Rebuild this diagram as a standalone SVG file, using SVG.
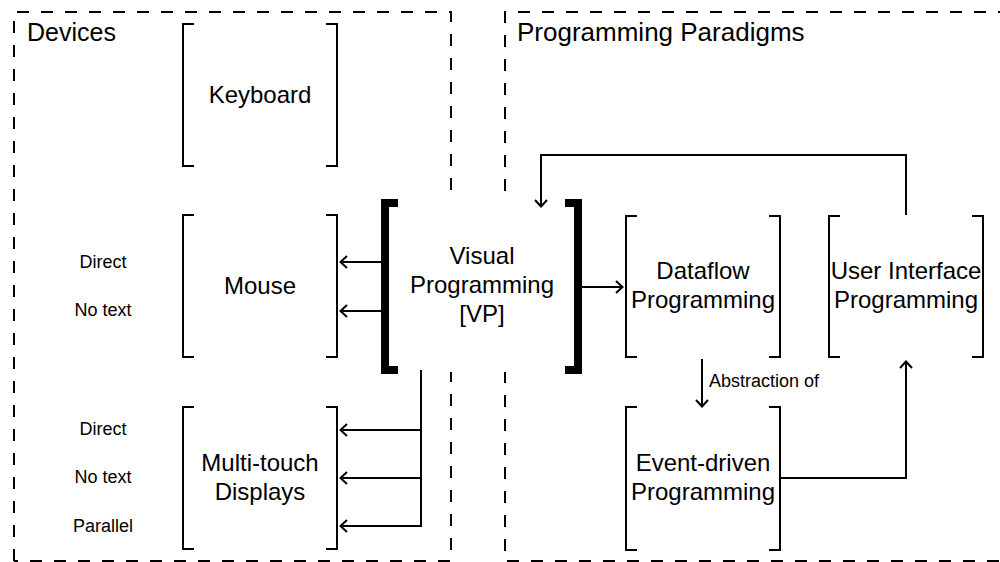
<svg xmlns="http://www.w3.org/2000/svg" width="1000" height="562" viewBox="0 0 1000 562">
<defs>
<style>
.cont{fill:none;stroke:#000;stroke-width:2;stroke-dasharray:12 12}
.br{fill:none;stroke:#000;stroke-width:2}
.bb{fill:none;stroke:#000;stroke-width:8}
.cn{fill:none;stroke:#000;stroke-width:2}
text{font-family:"Liberation Sans",Arial,sans-serif;fill:#000}
.m{font-size:24px;text-anchor:middle}
.s{font-size:18px;text-anchor:middle}
.t{font-size:25px}
</style>
<marker id="ah" markerUnits="userSpaceOnUse" markerWidth="14" markerHeight="16" refX="8" refY="7" orient="auto">
<path d="M1,1 L7.5,7 L1,13" fill="none" stroke="#000" stroke-width="2"/>
</marker>
</defs>
<rect width="1000" height="562" fill="#fff"/>
<g id="devices">
<path class="cont" d="M14,561 V12 H451 V561 H14"/>
<text class="t" x="27" y="41">Devices</text>
</g>
<g id="paradigms">
<path class="cont" d="M1010,12 H505 V561 H1010"/>
<text class="t" x="517" y="41" style="font-size:26px">Programming Paradigms</text>
</g>
<g id="keyboard">
<path class="br" d="M194,24 H183 V166 H194 M326,24 H337 V166 H326"/>
<text class="m" x="260" y="103">Keyboard</text>
</g>
<g id="mouse">
<path class="br" d="M194,215 H183 V357 H194 M326,215 H337 V357 H326"/>
<text class="m" x="260" y="294">Mouse</text>
<text class="s" x="103" y="268">Direct</text>
<text class="s" x="103" y="316">No text</text>
</g>
<g id="multitouch">
<path class="br" d="M194,407 H183 V549 H194 M326,407 H337 V549 H326"/>
<text class="m" x="260" y="471">Multi-touch</text>
<text class="m" x="260" y="500">Displays</text>
<text class="s" x="103" y="435">Direct</text>
<text class="s" x="103" y="483">No text</text>
<text class="s" x="103" y="532">Parallel</text>
</g>
<g id="vp">
<rect x="381" y="199" width="201" height="173" fill="#fff"/>
<path class="bb" d="M398,203 H385 V370 H398 M565,203 H578 V370 H565"/>
<text class="m" x="482" y="264">Visual</text>
<text class="m" x="482" y="293">Programming</text>
<text class="m" x="482" y="322">[VP]</text>
</g>
<g id="dataflow">
<path class="br" d="M637,216 H626 V357 H637 M769,216 H780 V357 H769"/>
<text class="m" x="703" y="279">Dataflow</text>
<text class="m" x="703" y="308">Programming</text>
</g>
<g id="ui">
<path class="br" d="M840,216 H829 V357 H840 M972,216 H983 V357 H972"/>
<text class="m" x="906" y="279">User Interface</text>
<text class="m" x="906" y="308">Programming</text>
</g>
<g id="eventdriven">
<path class="br" d="M637,407 H626 V550 H637 M769,407 H780 V550 H769"/>
<text class="m" x="703" y="471">Event-driven</text>
<text class="m" x="703" y="500">Programming</text>
</g>
<g id="connectors">
<path class="cn" d="M381,262 H340" marker-end="url(#ah)"/>
<path class="cn" d="M381,311 H340" marker-end="url(#ah)"/>
<path class="cn" d="M421,370 V526 H340" marker-end="url(#ah)"/>
<path class="cn" d="M421,430 H340" marker-end="url(#ah)"/>
<path class="cn" d="M421,478 H340" marker-end="url(#ah)"/>
<path class="cn" d="M582,287 H623" marker-end="url(#ah)"/>
<path class="cn" d="M906,215 V155 H541 V207" marker-end="url(#ah)"/>
<path class="cn" d="M702,359 V407" marker-end="url(#ah)"/>
<path class="cn" d="M781,478 H906 V361" marker-end="url(#ah)"/>
<text x="709" y="387" style="font-size:18px">Abstraction of</text>
</g>
</svg>
